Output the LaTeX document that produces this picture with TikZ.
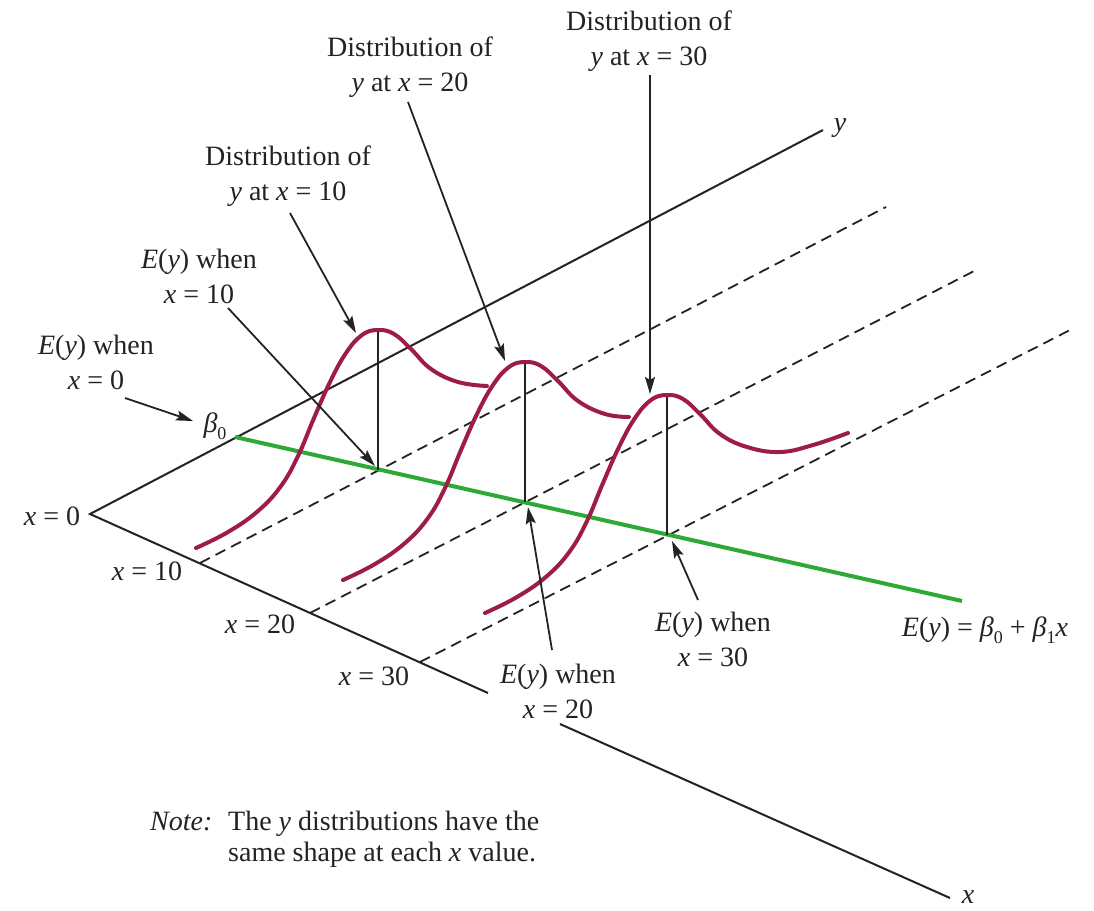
\documentclass[tikz,border=0pt]{standalone}
\usepackage{fontspec}
\setmainfont{Liberation Serif}
\usetikzlibrary{arrows.meta}
\definecolor{curvered}{RGB}{158,28,72}
\definecolor{linegreen}{RGB}{46,168,54}
\definecolor{ink}{RGB}{35,35,35}
\newcommand{\vx}{\textit{x}}
\newcommand{\vy}{\textit{y}}
\newcommand{\vE}{\textit{E}}
\newcommand{\bet}{\textit{β}}
\newcommand{\lsub}[1]{\raisebox{-0.28em}{\fontsize{18}{18}\selectfont #1}}
\begin{document}
\begin{tikzpicture}[x=1pt,y=-1pt,
  lbl/.style={font=\fontsize{28}{35}\selectfont, text=ink, align=center, inner sep=0pt},
  lblb/.style={font=\fontsize{28}{35}\selectfont, text=ink, inner sep=0pt, anchor=base},
  axisline/.style={ink, line width=2pt},
  guide/.style={ink, line width=1.8pt, dash pattern=on 11pt off 6.5pt},
  meanline/.style={linegreen, line width=4pt},
  stem/.style={ink, line width=1.5pt},
  density/.style={curvered, line width=4pt, line cap=round},
  pointer/.style={ink, line width=1.8pt, -{Stealth[length=17pt,width=10pt,inset=3pt]}}]
\useasboundingbox[fill=white] (0,0) rectangle (1094,910);

% key points
\coordinate (O) at (90,514);
\coordinate (yend) at (823,130);
\coordinate (t10) at (200,563);
\coordinate (t20) at (310,613);
\coordinate (t30) at (420,662);
\coordinate (xmid) at (488,693);
\coordinate (xres) at (560,724);
\coordinate (xend) at (950,898);
\coordinate (g10) at (886,207);
\coordinate (g20) at (978,269);
\coordinate (g30) at (1072,329);
\coordinate (B0) at (235,437);
\coordinate (E10) at (378,470);
\coordinate (E20) at (525,502);
\coordinate (E30) at (667,535);
\coordinate (gend) at (962,601);
\coordinate (P10) at (378,330);
\coordinate (P20) at (525,362);
\coordinate (P30) at (667,395);

% guide lines
\draw[guide] (t10) -- (g10);
\draw[guide] (t20) -- (g20);
\draw[guide] (t30) -- (g30);

% axes
\draw[axisline] (yend) -- (O) -- (xmid);
\draw[axisline] (xres) -- (xend);

% regression line
\draw[meanline] (B0) -- (gend);

% stems
\draw[stem] (E10) -- (P10);
\draw[stem] (E20) -- (P20);
\draw[stem] (E30) -- (P30);

% densities
\draw[density, shift={(E10)}] plot[smooth, tension=0.7] coordinates {(-182,78) (-150,62) (-120,41) (-97,16) (-80,-14) (-64,-52) (-48,-88) (-32,-117) (-16,-135) (0,-140) (16,-136) (33,-121) (53,-101) (80,-88) (109,-84)};
\draw[density, shift={(E20)}] plot[smooth, tension=0.7] coordinates {(-182,78) (-150,62) (-120,41) (-97,16) (-80,-14) (-64,-52) (-48,-88) (-32,-117) (-16,-135) (0,-140) (16,-136) (33,-121) (53,-101) (80,-88) (104,-85)};
\draw[density, shift={(E30)}] plot[smooth, tension=0.7] coordinates {(-182,78) (-150,62) (-120,41) (-97,16) (-80,-14) (-64,-52) (-48,-88) (-32,-117) (-16,-135) (0,-140) (16,-136) (33,-121) (53,-101) (80,-88) (113,-83) (146,-90) (181,-102)};

% labels
\node[lbl] (d30) at (649,41.5) {Distribution of\\\vy{} at \vx{} = 30};
\node[lbl] (d20) at (410,67.5) {Distribution of\\\vy{} at \vx{} = 20};
\node[lbl] (d10) at (288,176.5) {Distribution of\\\vy{} at \vx{} = 10};
\node[lbl] (e10) at (199,276.5) {\vE(\vy) when\\\vx{} = 10};
\node[lbl] (e0) at (96,362.5) {\vE(\vy) when\\\vx{} = 0};
\node[lbl] (e20) at (558,691) {\vE(\vy) when\\\vx{} = 20};
\node[lbl] (e30) at (713,639.5) {\vE(\vy) when\\\vx{} = 30};
\node[lblb] (eq) at (985,636) {\vE(\vy) = \bet\lsub{0} + \bet\lsub{1}\vx};
\node[lblb] (b0) at (215,432) {\bet\lsub{0}};
\node[lblb] (x0) at (52,525) {\vx{} = 0};
\node[lblb] (x10) at (147,580) {\vx{} = 10};
\node[lblb] (x20) at (260,633) {\vx{} = 20};
\node[lblb] (x30) at (374,685) {\vx{} = 30};
\node[lblb] (ylab) at (840,131) {\vy};
\node[lblb] (xlab) at (968,903) {\vx};
\node[lblb, anchor=base west] (note) at (150,830) {\textit{Note:}};
\node[lbl, anchor=base west, align=left, font=\fontsize{28}{31}\selectfont] (notetext) at (228,861) {The \vy{} distributions have the\\same shape at each \vx{} value.};

% pointer arrows
\coordinate (a0s) at (125,398);   \coordinate (a0e) at (193,421);
\coordinate (a10s) at (228,308);  \coordinate (a10e) at (375,466);
\coordinate (ad10s) at (290,213); \coordinate (ad10e) at (356,333);
\coordinate (ad20s) at (408,102); \coordinate (ad20e) at (505,361);
\coordinate (ad30s) at (650,75);  \coordinate (ad30e) at (650,394);
\coordinate (a20s) at (552,650);  \coordinate (a20e) at (528,507);
\coordinate (a30s) at (698,600);  \coordinate (a30e) at (672,541);
\draw[pointer] (a0s) -- (a0e);
\draw[pointer] (a10s) -- (a10e);
\draw[pointer] (ad10s) -- (ad10e);
\draw[pointer] (ad20s) -- (ad20e);
\draw[pointer] (ad30s) -- (ad30e);
\draw[pointer] (a20s) -- (a20e);
\draw[pointer] (a30s) -- (a30e);
\end{tikzpicture}
\end{document}
